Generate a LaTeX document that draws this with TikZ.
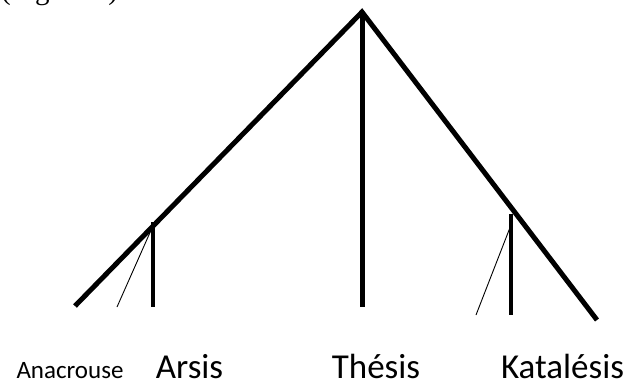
\documentclass[tikz,border=0pt]{standalone}
\usepackage{fontspec}
\setmainfont{Carlito}
\newfontfamily\figfont{Liberation Serif}
\begin{document}
\begin{tikzpicture}[x=1pt,y=-1pt,
  heavy/.style={line width=5pt, line join=miter},
  stem/.style={line width=3.5pt},
  fine/.style={line width=0.9pt},
  biglab/.style={inner sep=0pt, anchor=base, font=\fontsize{35}{40}\selectfont},
  smalllab/.style={inner sep=0pt, anchor=base, font=\fontsize{25}{30}\selectfont}]
\useasboundingbox (0,0) rectangle (629,383);
\node[inner sep=0pt, anchor=base west, font=\figfont\fontsize{29}{34}\selectfont] (fig) at (1,-1) {(Figure 1)};
\coordinate (apex) at (362,12);
\coordinate (L) at (75,306);
\coordinate (R) at (597,320);
\coordinate (C) at (362,307);
\coordinate (at) at (153,222);
\coordinate (ab) at (153,307);
\coordinate (atf) at (152,228);
\coordinate (abf) at (117,307);
\coordinate (kt) at (511,214);
\coordinate (kb) at (511,315);
\coordinate (ktf) at (511,225);
\coordinate (kbf) at (476,315);
\draw[heavy] (L) -- (apex) -- (R);
\draw[heavy] (apex) -- (C);
\draw[stem] (at) -- (ab);
\draw[fine] (atf) -- (abf);
\draw[stem] (kt) -- (kb);
\draw[fine] (ktf) -- (kbf);
\node[smalllab] (anac) at (70,378) {Anacrouse};
\node[biglab] (arsis) at (189.5,378) {Arsis};
\node[biglab] (thesis) at (376,378) {Thésis};
\node[biglab] (katal) at (562.5,378) {Katalésis};
\end{tikzpicture}
\end{document}
